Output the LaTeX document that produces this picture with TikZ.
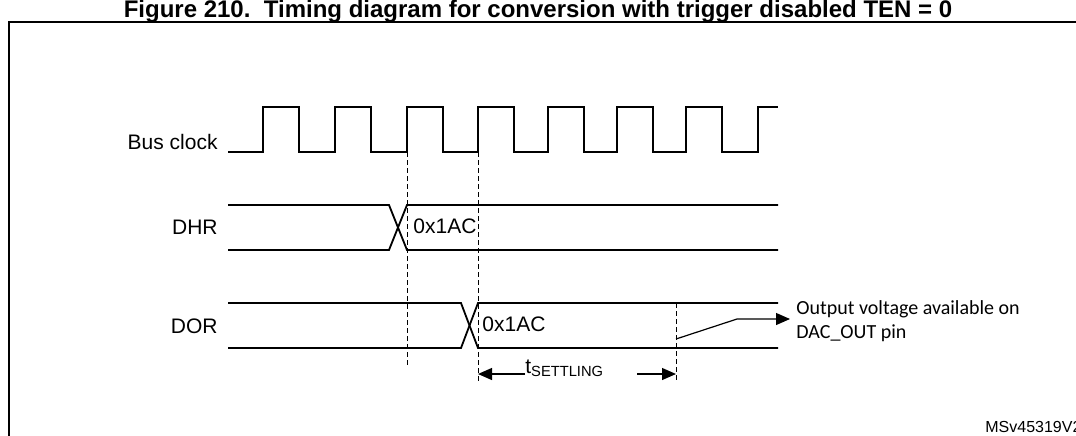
\documentclass[tikz,border=0pt]{standalone}
\usepackage{fontspec}
\setmainfont{Liberation Sans}
\newfontfamily\calibrifont{Carlito}
\usetikzlibrary{arrows.meta}
\tikzset{
  signal/.style={line width=0.9pt, line join=miter},
  guide/.style={line width=0.5pt, dash pattern=on 2.5pt off 1.5pt},
  sigmark/.style={anchor=east, inner sep=0pt, font=\fontsize{10.5}{12}\selectfont},
  tip/.style={-{Triangle[length=7pt,width=6pt]}, line width=0.6pt}
}
\begin{document}
\begin{tikzpicture}[x=0.5pt, y=-0.5pt]
    \useasboundingbox (0,0) rectangle (1076,435);
    % caption and frame
    \node (title) at (538,17) [anchor=base, inner sep=0pt, font=\bfseries\fontsize{12}{14}\selectfont] {Figure 210.\ \ Timing diagram for conversion with trigger disabled TEN = 0};
    \draw[line width=0.8pt] (9,436) -- (9,22) -- (1077,22);
    % signal names
    \node (clk) at (218,142) [sigmark] {Bus clock};
    \node (dhr) at (218,227) [sigmark] {DHR};
    \node (dor) at (218,326) [sigmark] {DOR};
    % bus clock
    \draw[signal] (228,152) \foreach \r in {263,335,407,478,548,617,686} {
        -- (\r,152) -- (\r,107) -- ({\r+36},107) -- ({\r+36},152)} -- (758,152) -- (758,107) -- (778,107);
    % DHR and DOR buses
    \draw[signal] (228,205) -- (389,205) -- (407,250) -- (778,250);
    \draw[signal] (228,250) -- (389,250) -- (407,205) -- (778,205);
    \draw[signal] (228,303) -- (461,303) -- (478,348) -- (778,348);
    \draw[signal] (228,348) -- (461,348) -- (478,303) -- (778,303);
    \node (dhrval) at (413,226) [anchor=west, inner sep=0pt, font=\fontsize{10.5}{12}\selectfont] {0x1AC};
    \node (dorval) at (482,324) [anchor=west, inner sep=0pt, font=\fontsize{10.5}{12}\selectfont] {0x1AC};
    % timing guides
    \coordinate (g1a) at (407,152);
    \coordinate (g1b) at (407,365);
    \coordinate (g2a) at (478,152);
    \coordinate (g2b) at (478,383);
    \coordinate (g3a) at (676,303);
    \coordinate (g3b) at (676,383);
    \draw[guide] (g1a) -- (g1b);
    \draw[guide] (g2a) -- (g2b);
    \draw[guide] (g3a) -- (g3b);
    % settling time
    \node (tset) at (525,368) [anchor=west, inner sep=0pt, font=\fontsize{10.5}{12}\selectfont] {t\textsubscript{SETTLING}};
    \coordinate (tsL) at (478,374);
    \coordinate (tsR0) at (637,374);
    \coordinate (tsR) at (676,374);
    \draw[tip] (tset.west |- tsL) -- (tsL);
    \draw[tip] (tsR0) -- (tsR);
    % output ramp
    \node (dacout) at (796,321) [anchor=west, inner sep=0pt, align=left, font=\calibrifont\fontsize{10}{12}\selectfont] {Output voltage available on\\DAC\_OUT pin};
    \coordinate (ramp0) at (676,339);
    \coordinate (ramp1) at (737,319);
    \draw[tip] (ramp0) -- (ramp1) -- ([xshift=-3pt]dacout.west |- ramp1);
    \node (ref) at (985,427) [anchor=west, inner sep=0pt, font=\fontsize{8}{10}\selectfont] {MSv45319V2};
\end{tikzpicture}
\end{document}
